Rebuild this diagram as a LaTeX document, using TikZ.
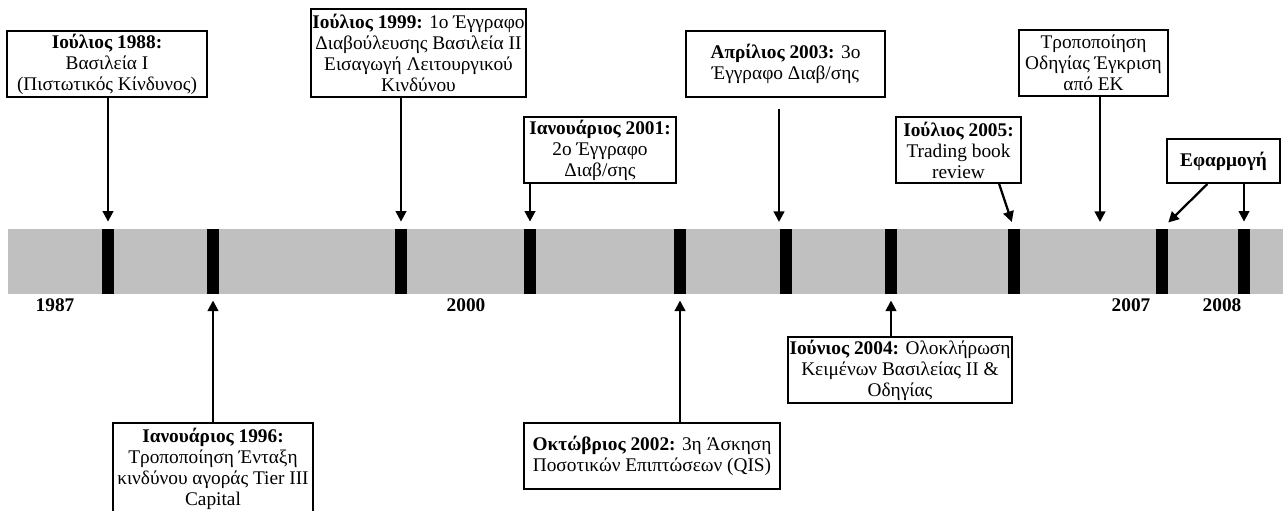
\documentclass[tikz,border=0pt]{standalone}
\usepackage{fontspec}
\setmainfont{Liberation Serif}
\usetikzlibrary{arrows.meta, calc}
\definecolor{bargray}{RGB}{192,192,192}

\begin{document}
\begin{tikzpicture}[
    x=0.02cm, y=-0.02cm,
    font=\fontsize{11}{12}\selectfont,
    band/.style  = {fill=bargray},
    notch/.style = {rectangle, fill=black, inner sep=0pt, minimum width=0.23cm, minimum height=1.3cm},
    evt/.style   = {rectangle, draw=black, fill=white, line width=1.1pt, align=center,
                    inner xsep=1pt, inner ysep=1pt},
    boxsz/.style 2 args = {minimum width=#1*0.02cm, minimum height=#2*0.02cm},
    arr/.style   = {-{Triangle[length=6pt, width=6pt]}, line width=1.3pt},
    yr/.style    = {font=\fontsize{11}{12}\selectfont\bfseries},
]
\useasboundingbox (0,0) rectangle (1283,510);

% ---------------- time bar ----------------
\fill[band] (8,229) rectangle (1283,294);
\foreach \x [count=\i] in {108,213,401,530,680,786,891,1014,1162,1244}
    \node[notch] (n\i) at (\x,261.5) {};
\node[yr] (y87) at (55,305) {1987};
\node[yr] (y00) at (466,305) {2000};
\node[yr] (y07) at (1131,305) {2007};
\node[yr] (y08) at (1222,305) {2008};

% ---------------- events above ----------------
\node[evt, boxsz={200}{66}] (b88) at (107,64) {\textbf{Ιούλιος 1988:}\\Βασιλεία I\\(Πιστωτικός Κίνδυνος)};
\node[evt, boxsz={213}{88}] (b99) at (418.5,53) {\textbf{Ιούλιος 1999:} 1ο Έγγραφο\\Διαβούλευσης Βασιλεία II\\Εισαγωγή Λειτουργικού\\Κινδύνου};
\node[evt, boxsz={152}{66}] (b01) at (600,150) {\textbf{Ιανουάριος 2001:}\\2ο Έγγραφο\\Διαβ/σης};
\node[evt, boxsz={199}{66}] (b03) at (785.5,64) {\textbf{Απρίλιος 2003:} 3ο\\Έγγραφο Διαβ/σης};
\node[evt, boxsz={125}{66}] (b05) at (958.5,150) {\textbf{Ιούλιος 2005:}\\Trading book\\review};
\node[evt, boxsz={149}{66}] (b06) at (1093.5,63) {Τροποποίηση\\Οδηγίας Έγκριση\\από ΕΚ};
\node[evt, boxsz={113}{44}] (b08) at (1223.5,161) {\textbf{Εφαρμογή}};

\coordinate (p03) at (779,222);
\coordinate (p06) at (1100,222);
\draw[arr, shorten >=4pt] (b88.south -| n1) -- (n1.north);
\draw[arr, shorten >=4pt] (b99.south -| n3) -- (n3.north);
\draw[arr, shorten >=4pt] (b01.south -| n4) -- (n4.north);
\draw[arr, shorten <=6pt] (b03.south -| p03) -- (p03);
\draw[arr, shorten >=4pt] ($(b05.south east)!0.18!(b05.south west)$) -- (n8.north);
\draw[arr] (b06.south -| p06) -- (p06);
\draw[arr, shorten >=5pt] ($(b08.south west)!0.36!(b08.south east)$) -- (n9.north);
\draw[arr, shorten >=4pt] (b08.south -| n10) -- (n10.north);

% ---------------- events below ----------------
\node[evt, boxsz={200}{92}] (b96) at (213,469) {\textbf{Ιανουάριος 1996:}\\Τροποποίηση Ένταξη\\κινδύνου αγοράς Tier III\\Capital};
\node[evt, boxsz={256}{66}] (b02) at (652,456) {\textbf{Οκτώβριος 2002:} 3η Άσκηση\\Ποσοτικών Επιπτώσεων (QIS)};
\node[evt, boxsz={218}{66}] (b04) at (900,370) {\textbf{Ιούνιος 2004:} Ολοκλήρωση\\Κειμένων Βασιλείας II \&\\Οδηγίας};

\draw[arr, shorten >=3.5pt] (b96.north -| n2) -- (n2.south);
\draw[arr, shorten >=3.5pt] (b02.north -| n5) -- (n5.south);
\draw[arr, shorten >=3.5pt] (b04.north -| n7) -- (n7.south);

\end{tikzpicture}
\end{document}
